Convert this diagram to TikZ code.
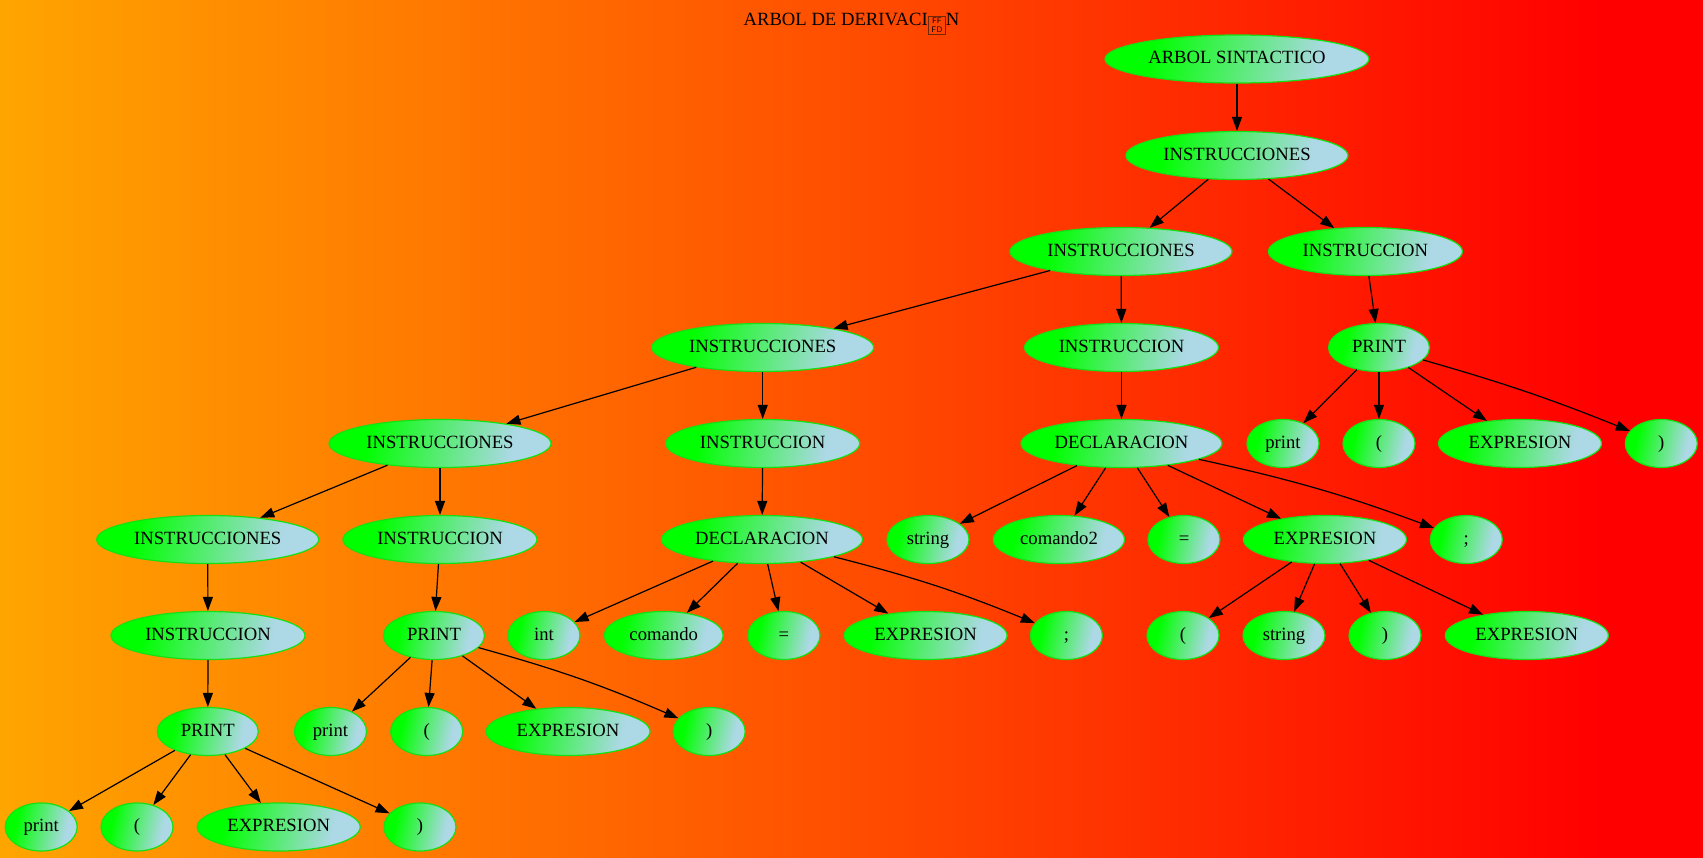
\documentclass[tikz,border=0pt]{standalone}
\usepackage{fontspec}
\setmainfont{Liberation Serif}
\usetikzlibrary{arrows.meta,shapes.geometric}
\definecolor{gvorange}{RGB}{255,165,0}
\definecolor{gvred}{RGB}{255,0,0}
\definecolor{gvgreen}{RGB}{0,255,0}
\definecolor{gvborder}{RGB}{20,225,20}
\definecolor{gvlb}{RGB}{173,216,230}
\definecolor{boxcol}{RGB}{110,40,10}
\pgfdeclarehorizontalshading{bgshade}{100bp}{color(0bp)=(gvorange); color(25bp)=(gvorange); color(72bp)=(gvred); color(100bp)=(gvred)}
\pgfdeclarehorizontalshading{nodeshade}{100bp}{color(0bp)=(gvgreen); color(31bp)=(gvgreen); color(69bp)=(gvlb); color(100bp)=(gvlb)}
\begin{document}
\begin{tikzpicture}[x=0.75pt,y=-0.75pt,
  tn/.style={ellipse, draw=gvborder, line width=0.9pt, shade, shading=nodeshade, shading angle=-12,
    minimum height=36pt, minimum width=#1*0.75pt, inner sep=0pt, text height=10pt, text depth=3pt,
    font=\fontsize{14}{16}\selectfont},
  tn/.default=72,
  arr/.style={-{Triangle[length=10.5pt,width=7.5pt]}, line width=0.9pt, black},
  titlefont/.style={font=\fontsize{14}{16}\selectfont}]
\useasboundingbox (0,0) rectangle (1703,857);
\shade[shading=bgshade] (0,0) rectangle (1703,857);
\node[titlefont, inner sep=0pt, text height=10pt, text depth=3pt] (title) at (851.5,20.5) {ARBOL DE DERIVACI\raisebox{-3.7pt}{\fboxsep=0pt\fboxrule=0.8pt\color{boxcol}\fbox{\parbox[c][12.6pt][c]{12pt}{\centering\color{black}\fontsize{6}{6.3}\selectfont\sffamily FF\\FD}}}N};
% row 1-4
\node[tn=264] (root) at (1237,59) {ARBOL SINTACTICO};
\node[tn=222] (i1) at (1237,155.5) {INSTRUCCIONES};
\node[tn=222] (i2) at (1121,251.5) {INSTRUCCIONES};
\node[tn=194] (n1) at (1365.4,251.5) {INSTRUCCION};
\node[tn=222] (i3) at (762.7,347.5) {INSTRUCCIONES};
\node[tn=194] (n2) at (1121.5,347.5) {INSTRUCCION};
\node[tn=101] (p1) at (1379,347.5) {PRINT};
% row 5
\node[tn=222] (i4) at (440,443.5) {INSTRUCCIONES};
\node[tn=194] (n3) at (762.7,443.5) {INSTRUCCION};
\node[tn=201] (d1) at (1121.5,443.5) {DECLARACION};
\node[tn] (p1a) at (1283,443.5) {print};
\node[tn] (p1b) at (1379,443.5) {(};
\node[tn=163] (p1c) at (1520,443.5) {EXPRESION};
\node[tn] (p1d) at (1661.3,443.5) {)};
% row 6
\node[tn=222] (i5) at (207.7,539.5) {INSTRUCCIONES};
\node[tn=194] (n4) at (440,539.5) {INSTRUCCION};
\node[tn=201] (d2) at (762,539.5) {DECLARACION};
\node[tn=82] (d1a) at (928,539.5) {string};
\node[tn=131] (d1b) at (1059,539.5) {comando2};
\node[tn] (d1c) at (1184,539.5) {=};
\node[tn=163] (d1d) at (1325,539.5) {EXPRESION};
\node[tn] (d1e) at (1466.3,539.5) {;};
% row 7
\node[tn=194] (n5) at (208,635.5) {INSTRUCCION};
\node[tn=101] (p2) at (434,635.5) {PRINT};
\node[tn] (d2a) at (544,635.5) {int};
\node[tn=119] (d2b) at (663.7,635.5) {comando};
\node[tn] (d2c) at (784,635.5) {=};
\node[tn=163] (d2d) at (925.6,635.5) {EXPRESION};
\node[tn] (d2e) at (1066.4,635.5) {;};
\node[tn] (x1) at (1183,635.5) {(};
\node[tn=82] (x2) at (1284,635.5) {string};
\node[tn] (x3) at (1385,635.5) {)};
\node[tn=163] (x4) at (1526.8,635.5) {EXPRESION};
% row 8
\node[tn=101] (p3) at (207.8,731.5) {PRINT};
\node[tn] (p2a) at (330.5,731.5) {print};
\node[tn] (p2b) at (426.7,731.5) {(};
\node[tn=164] (p2c) at (568,731.5) {EXPRESION};
\node[tn] (p2d) at (709.2,731.5) {)};
% row 9
\node[tn] (p3a) at (41.2,827) {print};
\node[tn] (p3b) at (137,827) {(};
\node[tn=163] (p3c) at (278.7,827) {EXPRESION};
\node[tn] (p3d) at (420,827) {)};
% edges
\draw[arr] (root) -- (i1);
\draw[arr] (i1) -- (i2);
\draw[arr] (i1) -- (n1);
\draw[arr] (i2) -- (i3);
\draw[arr] (i2) -- (n2);
\draw[arr] (n1) -- (p1);
\draw[arr] (i3) -- (i4);
\draw[arr] (i3) -- (n3);
\draw[arr] (n2) -- (d1);
\draw[arr] (p1) -- (p1a);
\draw[arr] (p1) -- (p1b);
\draw[arr] (p1) -- (p1c);
\draw[arr] (p1) to[bend left=3] (p1d);
\draw[arr] (i4) -- (i5);
\draw[arr] (i4) -- (n4);
\draw[arr] (n3) -- (d2);
\draw[arr] (d1) -- (d1a);
\draw[arr] (d1) -- (d1b);
\draw[arr] (d1) -- (d1c);
\draw[arr] (d1) -- (d1d);
\draw[arr] (d1) to[bend left=4] (d1e);
\draw[arr] (i5) -- (n5);
\draw[arr] (n4) -- (p2);
\draw[arr] (d2) -- (d2a);
\draw[arr] (d2) -- (d2b);
\draw[arr] (d2) -- (d2c);
\draw[arr] (d2) -- (d2d);
\draw[arr] (d2) to[bend left=4] (d2e);
\draw[arr] (d1d) -- (x1);
\draw[arr] (d1d) -- (x2);
\draw[arr] (d1d) -- (x3);
\draw[arr] (d1d) -- (x4);
\draw[arr] (n5) -- (p3);
\draw[arr] (p2) -- (p2a);
\draw[arr] (p2) -- (p2b);
\draw[arr] (p2) -- (p2c);
\draw[arr] (p2) to[bend left=4] (p2d);
\draw[arr] (p3) -- (p3a);
\draw[arr] (p3) -- (p3b);
\draw[arr] (p3) -- (p3c);
\draw[arr] (p3) -- (p3d);
\end{tikzpicture}
\end{document}
